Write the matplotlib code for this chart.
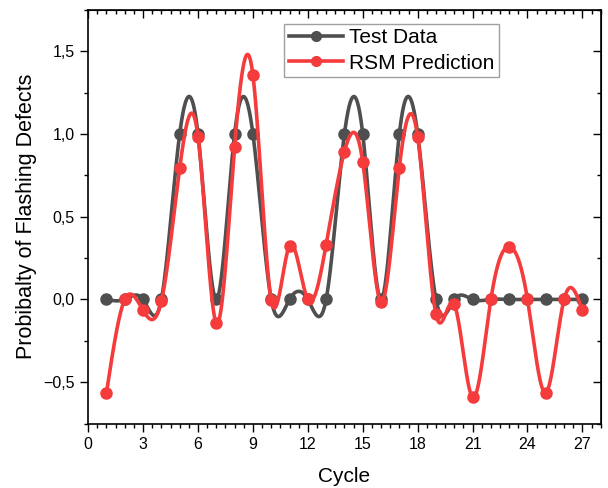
import numpy as np
import matplotlib.pyplot as plt

plt.rcParams['font.family'] = ['Liberation Sans', 'DejaVu Sans']

cycle = np.arange(1, 28)
test_data = [0, 0, 0, 0, 1, 1, 0, 1, 1, 0, 0, 0, 0, 1, 1, 0, 1, 1,
             0, 0, 0, 0, 0, 0, 0, 0, 0]
rsm_pred = [-0.564, 0.0, -0.066, -0.01, 0.793, 0.984, -0.143, 0.922, 1.355,
            -0.002, 0.325, 0.0, 0.331, 0.893, 0.831, -0.016, 0.797, 0.982,
            -0.09, -0.03, -0.592, 0.0, 0.319, 0.0, -0.564, 0.0, -0.066]

x_ticks = np.arange(0, 28, 3)
y_ticks = [-0.5, 0.0, 0.5, 1.0, 1.5]


def natural_spline(x, y, n=2000):
    # natural cubic spline, like Origin's "Spline" line connection
    x = np.asarray(x, float)
    y = np.asarray(y, float)
    m = len(x)
    h = np.diff(x)
    A = np.zeros((m, m))
    b = np.zeros(m)
    A[0, 0] = A[-1, -1] = 1
    for i in range(1, m - 1):
        A[i, i - 1] = h[i - 1]
        A[i, i] = 2 * (h[i - 1] + h[i])
        A[i, i + 1] = h[i]
        b[i] = 6 * ((y[i + 1] - y[i]) / h[i] - (y[i] - y[i - 1]) / h[i - 1])
    M = np.linalg.solve(A, b)
    xs = np.linspace(x[0], x[-1], n)
    k = np.clip(np.searchsorted(x, xs) - 1, 0, m - 2)
    t0 = xs - x[k]
    t1 = x[k + 1] - xs
    hk = h[k]
    ys = (M[k] * t1**3 + M[k + 1] * t0**3) / (6 * hk) \
        + (y[k] / hk - M[k] * hk / 6) * t1 + (y[k + 1] / hk - M[k + 1] * hk / 6) * t0
    return xs, ys


fig, ax = plt.subplots(figsize=(6.08, 4.88), dpi=100)
fig.subplots_adjust(left=0.145, right=0.988, top=0.98, bottom=0.132)

gray = '#4f4f4f'
red = '#f53b3b'

for vals, col, lab, z in [(test_data, gray, 'Test Data', 2), (rsm_pred, red, 'RSM Prediction', 3)]:
    xs, ys = natural_spline(cycle, vals)
    ax.plot(xs, ys, color=col, lw=2.6, zorder=z)
    ax.plot(cycle, vals, 'o', color=col, ms=8, zorder=z)
    ax.plot([], [], '-o', color=col, lw=2.6, ms=7, label=lab)

ax.set_xlim(0, 28)
ax.set_ylim(-0.75, 1.75)
ax.set_xticks(x_ticks)
ax.set_yticks(y_ticks)
ax.set_yticklabels([f'{v:.1f}'.replace('.', ',').replace('-', '\u2212') for v in y_ticks])
ax.set_xticks(np.arange(0, 28.1, 0.5), minor=True)
ax.set_yticks(np.arange(-0.75, 1.76, 0.25), minor=True)
ax.tick_params(which='major', direction='out', length=6, width=1, labelsize=11.5)
ax.tick_params(which='minor', direction='out', length=3, width=1)

# Origin-style inward ticks on the top and right spines
sec_x = ax.secondary_xaxis('top')
sec_x.set_xticks(x_ticks)
sec_x.set_xticks(np.arange(0, 28.1, 0.5), minor=True)
sec_y = ax.secondary_yaxis('right')
sec_y.set_yticks(y_ticks)
sec_y.set_yticks(np.arange(-0.75, 1.76, 0.25), minor=True)
for sec in (sec_x, sec_y):
    sec.tick_params(which='major', direction='in', length=6, width=1, labelleft=False,
                    labelright=False, labeltop=False, labelbottom=False)
    sec.tick_params(which='minor', direction='in', length=3, width=1)

for s in ax.spines.values():
    s.set_linewidth(1.2)

ax.set_xlabel('Cycle', fontsize=15, labelpad=11)
ax.set_ylabel('Probibalty of Flashing Defects', fontsize=15.5, labelpad=5)

leg = ax.legend(loc='upper left', bbox_to_anchor=(0.383, 0.965), fontsize=15,
                frameon=True, fancybox=False, handlelength=2.6, borderpad=0.2,
                labelspacing=0.3, handletextpad=0.3, borderaxespad=0)
leg.get_frame().set_edgecolor('#888888')
leg.get_frame().set_linewidth(1)

fig.savefig('out.png', dpi=100)
